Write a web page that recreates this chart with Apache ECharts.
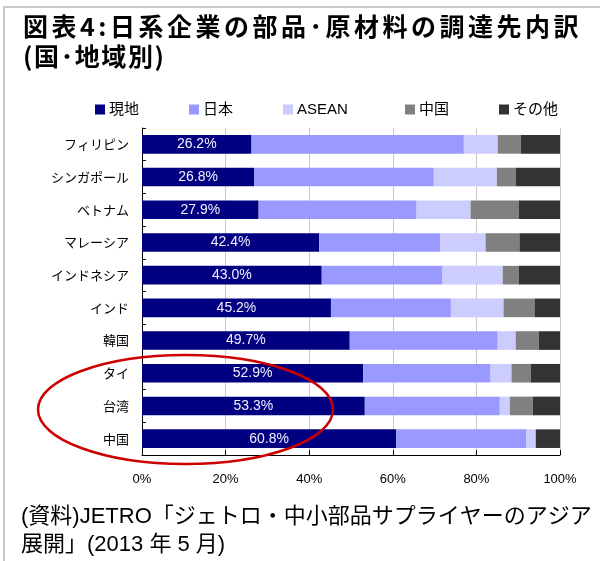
<!DOCTYPE html>
<html>
<head>
<meta charset="utf-8">
<script src="https://cdn.jsdelivr.net/npm/echarts@6/dist/echarts.min.js"></script>
<style>
html,body{margin:0;padding:0;background:#fff;}
#chart{width:600px;height:561px;}
</style>
</head>
<body>
<div id="chart"></div>
<script>
// ---- data ----
var categories = ['フィリピン','シンガポール','ベトナム','マレーシア','インドネシア','インド','韓国','タイ','台湾','中国'];
var seriesNames = ['現地','日本','ASEAN','中国','その他'];
var localVals = [26.2,26.8,27.9,42.4,43.0,45.2,49.7,52.9,53.3,60.8];
var japanVals = [50.8,43.0,37.8,28.9,28.9,28.7,35.4,30.5,32.3,31.2];
var aseanVals = [8.1,15.1,12.9,10.9,14.4,12.6,4.3,5.0,2.4,2.2];
var chinaVals = [5.5,4.5,11.5,8.1,3.8,7.4,5.5,4.6,5.5,0];
var otherVals = [9.4,10.6,9.9,9.7,9.9,6.1,5.1,7.0,6.5,5.8];
var xTicks = [0,20,40,60,80,100];
var titleLine1 = '図表4:日系企業の部品･原材料の調達先内訳';
var titleLine2 = '(国･地域別)';
var sourceLine1 = '(資料)JETRO「ジェトロ・中小部品サプライヤーのアジア';
var sourceLine2 = '展開」(2013 年 5 月)';

var colors = ['#000080','#9999ff','#ccccff','#808080','#333333'];
var FONT = '"Liberation Sans", Arial, "Noto Sans CJK JP", sans-serif';
var CJK = '"Noto Sans CJK JP", sans-serif';

function spaced(str){
  return str.split('').map(function(c){ return '{c|' + c + '}'; }).join('');
}

var chart = echarts.init(document.getElementById('chart'), null, {renderer:'canvas'});

var valueLists = [localVals, japanVals, aseanVals, chinaVals, otherVals];
var series = seriesNames.map(function(n, i){
  var s = {
    name: n, type: 'bar', stack: 'total',
    data: valueLists[i],
    barCategoryGap: '43%',
    itemStyle: {color: colors[i]},
    emphasis: {disabled: true}
  };
  if (i === 0) {
    s.label = {
      show: true, position: 'inside',
      formatter: function(p){ return p.value.toFixed(1) + '%'; },
      color: '#f0f0ff', fontSize: 14, fontFamily: FONT
    };
  }
  return s;
});

var legendLefts = [90, 184, 278, 400, 494];
var legends = seriesNames.map(function(n, i){
  return {
    data: [n], left: legendLefts[i], top: 97,
    icon: 'rect', itemWidth: 10, itemHeight: 10, itemGap: 0,
    textStyle: {fontSize: 15, color: '#000', fontFamily: FONT, padding:[0,0,0,-1]},
    selectedMode: false
  };
});

var option = {
  animation: false,
  backgroundColor: '#fff',
  color: colors,
  legend: legends,
  grid: {left: 142, right: 40, top: 128, bottom: 106, containLabel: false},
  xAxis: {
    type: 'value', min: 0, max: 100, interval: 20,
    axisLine: {show: true, lineStyle: {color: '#000', width: 1}},
    axisTick: {show: true, inside: true, length: 5, lineStyle: {color: '#000'}},
    axisLabel: {formatter: '{value}%', fontSize: 13, color: '#000', fontFamily: FONT, margin: 18},
    splitLine: {show: true, lineStyle: {color: '#c8c8c8', width: 1}}
  },
  yAxis: {
    type: 'category', inverse: true, data: categories,
    axisLine: {show: true, lineStyle: {color: '#000', width: 1}},
    axisTick: {show: true, inside: true, length: 4, lineStyle: {color: '#000'}},
    axisLabel: {fontSize: 13, color: '#000', fontFamily: CJK, margin: 13},
    splitLine: {show: false}
  },
  series: series,
  graphic: [
    {type: 'line', shape: {x1: 4, y1: 7, x2: 4, y2: 561}, style: {stroke: '#c8c8c8', lineWidth: 2}, silent: true},
    {type: 'line', shape: {x1: 3, y1: 7, x2: 600, y2: 7}, style: {stroke: '#c8c8c8', lineWidth: 2}, silent: true},
    {type: 'text', left: 23, top: 14, style: {text: spaced(titleLine1), font: 'bold 25px ' + CJK, fill: '#000',
      rich: {c: {font: 'bold 25px ' + CJK, fill: '#000', padding: [0, 1.75, 0, 1.75]}}}},
    {type: 'text', left: 23, top: 44, style: {text: spaced(titleLine2), font: 'bold 25px ' + CJK, fill: '#000',
      rich: {c: {font: 'bold 25px ' + CJK, fill: '#000', padding: [0, 0.8, 0, 0.8]}}}},
    {type: 'text', left: 21, top: 506, style: {text: sourceLine1, font: '22px ' + FONT, fill: '#000'}},
    {type: 'text', left: 21, top: 534, style: {text: sourceLine2, font: '22px ' + FONT, fill: '#000'}},
    {type: 'ellipse', shape: {cx: 185.5, cy: 409.5, rx: 147.5, ry: 54.5}, z: 100,
     style: {fill: 'none', stroke: '#cc0000', lineWidth: 2.5}, silent: true}
  ]
};
chart.setOption(option);
</script>
</body>
</html>
